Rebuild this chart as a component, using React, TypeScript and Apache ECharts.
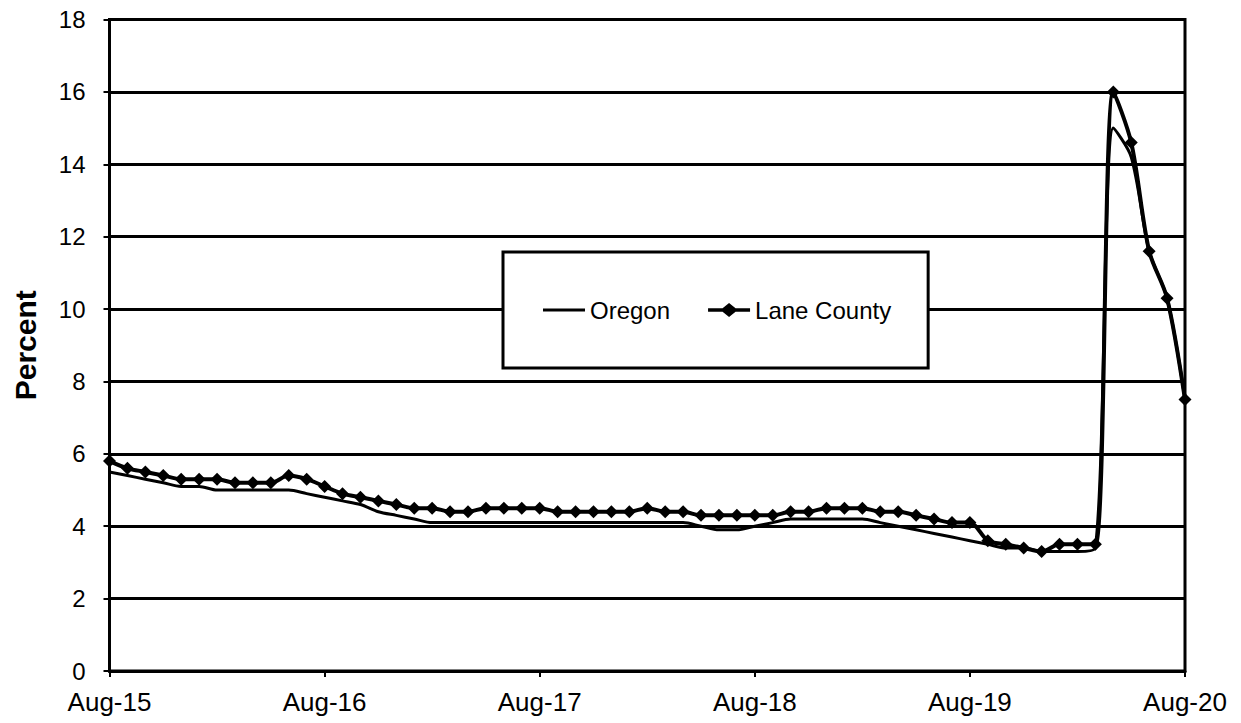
import React, { useEffect, useRef } from "react";
import * as echarts from "echarts";

const MONTHS = ["Jan", "Feb", "Mar", "Apr", "May", "Jun", "Jul", "Aug", "Sep", "Oct", "Nov", "Dec"];
const START_YEAR = 15;
const START_MONTH = 7; // Aug
const MONTH_COUNT = 61;

const categories: string[] = [];
for (let i = 0; i < MONTH_COUNT; i++) {
  const m = (START_MONTH + i) % 12;
  const y = START_YEAR + Math.floor((START_MONTH + i) / 12);
  categories.push(`${MONTHS[m]}-${y}`);
}

const oregon = [
  5.5, 5.4, 5.3, 5.2, 5.1,
  5.1, 5.0, 5.0, 5.0, 5.0, 5.0, 4.9, 4.8, 4.7, 4.6, 4.4, 4.3,
  4.2, 4.1, 4.1, 4.1, 4.1, 4.1, 4.1, 4.1, 4.1, 4.1, 4.1, 4.1,
  4.1, 4.1, 4.1, 4.1, 4.0, 3.9, 3.9, 4.0, 4.1, 4.2, 4.2, 4.2,
  4.2, 4.2, 4.1, 4.0, 3.9, 3.8, 3.7, 3.6, 3.5, 3.4, 3.4, 3.3,
  3.3, 3.3, 3.4, 15.0, 14.2, 11.6, 10.3, 7.5,
];

const laneCounty = [
  5.8, 5.6, 5.5, 5.4, 5.3,
  5.3, 5.3, 5.2, 5.2, 5.2, 5.4, 5.3, 5.1, 4.9, 4.8, 4.7, 4.6,
  4.5, 4.5, 4.4, 4.4, 4.5, 4.5, 4.5, 4.5, 4.4, 4.4, 4.4, 4.4,
  4.4, 4.5, 4.4, 4.4, 4.3, 4.3, 4.3, 4.3, 4.3, 4.4, 4.4, 4.5,
  4.5, 4.5, 4.4, 4.4, 4.3, 4.2, 4.1, 4.1, 3.6, 3.5, 3.4, 3.3,
  3.5, 3.5, 3.5, 16.0, 14.6, 11.6, 10.3, 7.5,
];

const Y_MIN = 0;
const Y_MAX = 18;
const Y_STEP = 2;
const X_LABEL_EVERY = 12;

const FONT = "'Liberation Sans', Arial, sans-serif";

// legend icons: plain line, and line with a diamond (bounding box 42 x 14)
const ICON_LINE =
  "path://M0,0 L0.01,0 L0,0.01 Z M42,14 L41.99,14 L42,13.99 Z M0,5.5 L42,5.5 L42,8.5 L0,8.5 Z";
const ICON_DIAMOND_LINE =
  "path://M0,5.3 L14.5,5.3 L21,0 L27.5,5.3 L42,5.3 L42,8.7 L27.5,8.7 L21,14 L14.5,8.7 L0,8.7 Z";

export default function App() {
  const ref = useRef<HTMLDivElement>(null);

  useEffect(() => {
    if (!ref.current) return;
    const chart = echarts.init(ref.current, undefined, { renderer: "svg" });
    chart.setOption({
      animation: false,
      backgroundColor: "#fff",
      textStyle: { fontFamily: FONT, color: "#000" },
      grid: {
        left: 109.5,
        right: 56,
        top: 19.5,
        bottom: 52,
        show: true,
        borderColor: "#000",
        borderWidth: 3,
        backgroundColor: "transparent",
      },
      legend: {
        left: 503,
        top: 252,
        orient: "horizontal",
        itemWidth: 42,
        itemHeight: 14,
        itemGap: 38,
        padding: [46, 37, 46, 40],
        backgroundColor: "#fff",
        borderColor: "#000",
        borderWidth: 3,
        borderRadius: 0,
        itemStyle: { color: "#000", borderWidth: 0 },
        textStyle: { fontSize: 24, color: "#000", fontFamily: FONT },
        data: [
          { name: "Oregon", icon: ICON_LINE, itemStyle: { color: "#000", borderWidth: 0 } },
          { name: "Lane County", icon: ICON_DIAMOND_LINE, itemStyle: { color: "#000", borderWidth: 0 } },
        ],
      },
      xAxis: {
        type: "category",
        data: categories,
        boundaryGap: false,
        axisLine: { show: true, lineStyle: { color: "#000", width: 3 } },
        axisTick: {
          show: true,
          interval: X_LABEL_EVERY - 1,
          length: 6,
          lineStyle: { color: "#000", width: 2 },
        },
        axisLabel: {
          interval: X_LABEL_EVERY - 1,
          fontSize: 26,
          color: "#000",
          fontFamily: FONT,
          margin: 18,
        },
        splitLine: { show: false },
      },
      yAxis: {
        type: "value",
        min: Y_MIN,
        max: Y_MAX,
        interval: Y_STEP,
        name: "Percent",
        nameLocation: "middle",
        nameRotate: 90,
        nameGap: 69,
        nameTextStyle: { fontSize: 30, fontWeight: "bold", color: "#000", fontFamily: FONT },
        axisLine: { show: true, lineStyle: { color: "#000", width: 3 } },
        axisTick: { show: true, length: 6, lineStyle: { color: "#000", width: 2 } },
        axisLabel: { fontSize: 24, color: "#000", fontFamily: FONT, margin: 24 },
        splitLine: { show: true, lineStyle: { color: "#000", width: 3 } },
      },
      series: [
        {
          name: "Oregon",
          type: "line",
          data: oregon,
          smooth: 0.3,
          symbol: "none",
          showSymbol: false,
          lineStyle: { color: "#000", width: 3 },
          itemStyle: { color: "#000" },
          z: 2,
        },
        {
          name: "Lane County",
          type: "line",
          data: laneCounty,
          smooth: 0.3,
          symbol: "diamond",
          symbolSize: 13,
          showSymbol: true,
          showAllSymbol: true,
          lineStyle: { color: "#000", width: 4 },
          itemStyle: { color: "#000" },
          z: 3,
        },
      ],
    });
    return () => chart.dispose();
  }, []);

  return (
    <div
      ref={ref}
      style={{ position: "fixed", left: 0, top: 0, width: 1241, height: 723, background: "#fff" }}
    />
  );
}
